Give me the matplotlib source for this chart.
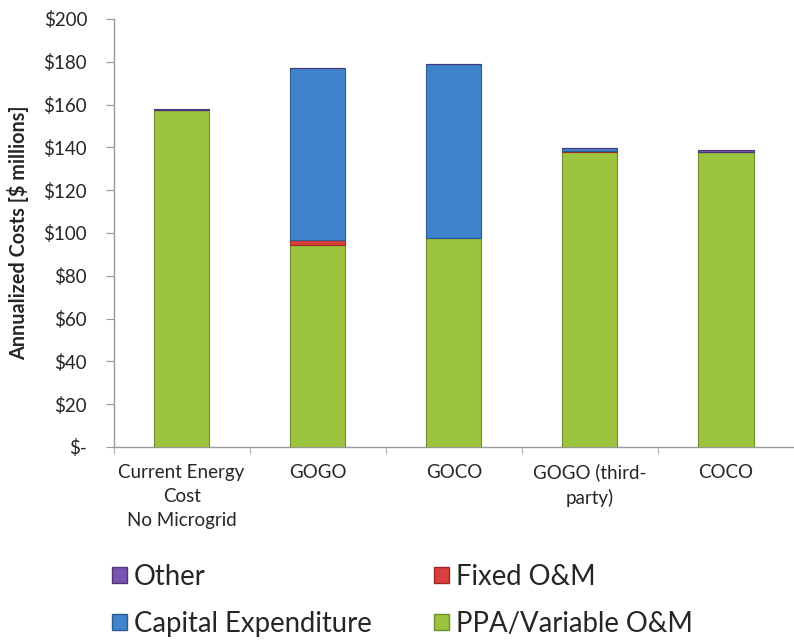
import matplotlib
matplotlib.use("Agg")
import matplotlib.pyplot as plt
from matplotlib.patches import Patch
import numpy as np

categories = ["Current Energy\nCost\nNo Microgrid", "GOGO", "GOCO", "GOGO (third-\nparty)", "COCO"]
ppa_variable_om = [157.3, 94.5, 97.5, 138.0, 138.0]
fixed_om = [0.0, 2.0, 0.3, 0.3, 0.0]
capital_expenditure = [0.0, 80.5, 81.0, 1.2, 0.0]
other = [0.8, 0.3, 0.3, 0.3, 0.6]
y_ticks = [0, 20, 40, 60, 80, 100, 120, 140, 160, 180, 200]
y_tick_labels = ["$-"] + [f"${v}" for v in y_ticks[1:]]

series = [
    ("PPA/Variable O&M", ppa_variable_om, "#9CC43F", "#6E8E2A"),
    ("Fixed O&M", fixed_om, "#D9403B", "#9E2A27"),
    ("Capital Expenditure", capital_expenditure, "#3F83CC", "#2A5C93"),
    ("Other", other, "#7A55B0", "#4E3578"),
]

plt.rcParams["font.family"] = ["Lato", "DejaVu Sans"]
text_color = "#262626"

fig = plt.figure(figsize=(7.94, 6.41), dpi=100)
ax = fig.add_axes([0.143, 0.3027, 0.857, 0.6677])

x = np.arange(len(categories))
bottom = np.zeros(len(categories))
for name, vals, face, edge in series:
    vals = np.array(vals, dtype=float)
    ax.bar(x, vals, width=0.405, bottom=bottom, color=face, edgecolor=edge,
           linewidth=0.8, zorder=3)
    bottom += vals

ax.set_xlim(-0.5, len(categories) - 0.5)
ax.set_ylim(0, 200)
ax.set_yticks(y_ticks)
ax.set_yticklabels(y_tick_labels, fontsize=13.5, color=text_color)
ax.set_xticks(x)
ax.set_xticklabels(categories, fontsize=13.5, color=text_color, linespacing=1.5)
ax.set_xticks(np.arange(len(categories) + 1) - 0.5, minor=True)
ax.tick_params(axis="x", which="major", length=0, pad=12)
ax.tick_params(axis="x", which="minor", length=5, color="#999999", direction="out")
ax.tick_params(axis="y", length=6, color="#999999", direction="out", pad=13)
for side in ("top", "right"):
    ax.spines[side].set_visible(False)
for side in ("left", "bottom"):
    ax.spines[side].set_color("#999999")
    ax.spines[side].set_linewidth(1.0)

ax.set_ylabel("Annualized Costs [$ millions]", fontsize=14.3, fontweight="bold",
              color=text_color)
ax.yaxis.set_label_coords(-0.124, 0.5)

colors = {name: (face, edge) for name, _, face, edge in series}
order = ["Other", "Capital Expenditure", "Fixed O&M", "PPA/Variable O&M"]
handles = [Patch(facecolor=colors[n][0], edgecolor=colors[n][1], label=n) for n in order]
leg = fig.legend(handles=handles, ncol=2, loc="upper left", bbox_to_anchor=(0.141, 0.12),
                 frameon=False, fontsize=19.8, handlelength=0.55, handleheight=0.5,
                 handletextpad=0.25, labelspacing=0.75, columnspacing=2.25,
                 borderaxespad=0, borderpad=0)
for t in leg.get_texts():
    t.set_color(text_color)

fig.savefig("out.png", dpi=100)
